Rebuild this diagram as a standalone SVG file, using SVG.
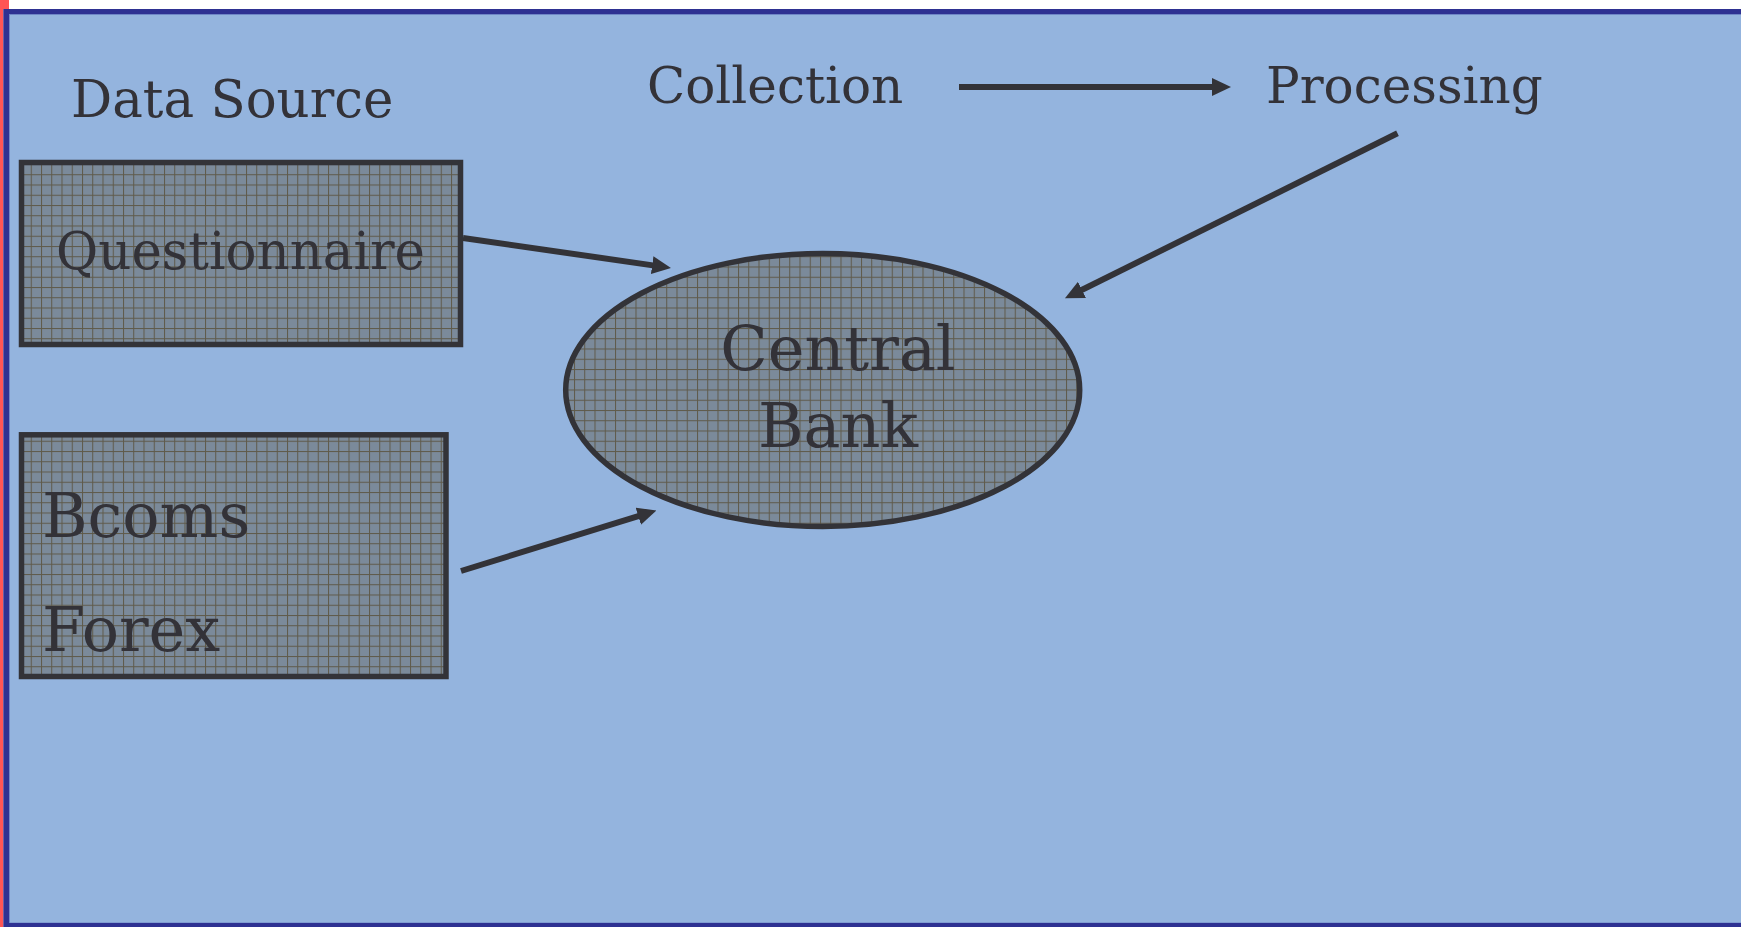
<svg xmlns="http://www.w3.org/2000/svg" width="1741" height="927" viewBox="0 0 1741 927">
  <style>
    .lbl { font-family: "DejaVu Serif", "Liberation Serif", serif; fill: #333238; }
    .top { font-size: 50px; }
    .big { font-size: 62px; }
    .shape { fill: url(#grid); stroke: #333338; stroke-width: 5.5; }
    .conn { stroke: #333338; stroke-width: 6; fill: none; marker-end: url(#head); }
  </style>
  <defs>
    <pattern id="grid" patternUnits="userSpaceOnUse" x="0" y="0" width="10.25" height="10.25">
      <rect width="10.25" height="10.25" fill="#7b8a9a"/>
      <rect x="0" y="0" width="1" height="10.25" fill="#5f5a4a"/>
      <rect x="0" y="0" width="10.25" height="1" fill="#5f5a4a"/>
    </pattern>
    <marker id="head" markerUnits="userSpaceOnUse" markerWidth="19" markerHeight="18" refX="6" refY="9" orient="auto">
      <path d="M0,0 L19,9 L0,18 z" fill="#333338"/>
    </marker>
  </defs>

  <g id="background">
    <rect x="0" y="0" width="1741" height="927" fill="#ffffff"/>
    <rect x="0" y="0" width="9" height="9" fill="#ff5555"/>
    <rect x="0" y="0" width="3.3" height="927" fill="#ff5555"/>
    <rect x="3.3" y="9" width="1737.7" height="918" fill="#2e3192"/>
    <rect x="9" y="14" width="1732" height="909" fill="#6f86c6"/>
    <rect x="10" y="15" width="1731" height="907.5" fill="#94b4de"/>
  </g>

  <g id="labels">
    <text class="lbl top" x="71" y="117" style="font-size:51.4px">Data Source</text>
    <text class="lbl top" x="647" y="103">Collection</text>
    <text class="lbl top" x="1266" y="103">Processing</text>
  </g>

  <g id="connectors">
    <line class="conn" x1="959" y1="87" x2="1218" y2="87"/>
    <line class="conn" x1="463" y1="238" x2="658.1" y2="266.1"/>
    <line class="conn" x1="461" y1="571" x2="644" y2="514.4"/>
    <line class="conn" x1="1397.5" y1="133.3" x2="1076.6" y2="292.5"/>
  </g>

  <g id="questionnaire">
    <rect class="shape" x="21.5" y="162.5" width="439" height="182"/>
    <text class="lbl top" x="56" y="269" style="font-size:51.5px">Questionnaire</text>
  </g>

  <g id="bcoms-forex">
    <rect class="shape" x="21.5" y="434.8" width="424.5" height="241.7"/>
    <text class="lbl big" x="42" y="537">Bcoms</text>
    <text class="lbl big" x="42" y="651">Forex</text>
  </g>

  <g id="central-bank">
    <ellipse class="shape" cx="822.7" cy="390" rx="257" ry="136.5"/>
    <text class="lbl big" x="838" y="370" text-anchor="middle">Central</text>
    <text class="lbl big" x="838" y="446.5" text-anchor="middle">Bank</text>
  </g>
</svg>
